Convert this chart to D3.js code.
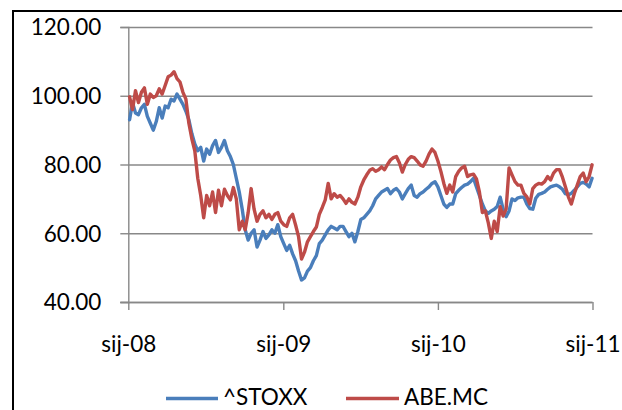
<!DOCTYPE html>
<html>
<head>
<meta charset="utf-8">
<script src="https://cdn.jsdelivr.net/npm/d3@7"></script>
<style>
  html, body { margin: 0; padding: 0; background: #fff; }
  svg { display: block; }
  text { font-family: Lato, "Open Sans", sans-serif; fill: #000; }
</style>
</head>
<body>
<svg id="chart" width="622" height="410"></svg>
<script>
// Weekly closes (Fridays), Jan 2008 – Dec 2010, both rebased to 100
const firstWeek = new Date(2008, 0, 4);
const xTickYears = [2008, 2009, 2010, 2011];
const yTicks = [40, 60, 80, 100, 120];
const seriesNames = ["^STOXX", "ABE.MC"];

const stoxx = [
  93, 98, 95, 94.5, 96.5, 97.5, 94, 92, 90, 92.5,
  96.5, 93.5, 97, 96.5, 99, 98.5, 100.5, 99, 97.5, 95.5,
  93, 89, 86, 84, 85, 81, 84.5, 83, 85.5, 87,
  83.5, 85, 87, 84, 82.3, 80, 76, 72, 67, 61,
  58, 60, 61, 56, 58, 60.5, 58.5, 59.5, 61, 60,
  62.5, 59, 57, 55, 56.5, 54, 52, 49, 46.4, 47,
  49, 50, 52, 53.5, 57, 58, 59.5, 61, 62, 61.5,
  61, 62, 62, 60.5, 59, 60, 57.5, 60.5, 64, 64.5,
  65.5, 66.5, 68, 70, 71, 72, 72.5, 73, 71.5, 72.5,
  73, 72, 70, 71.5, 73, 74, 71, 70.5, 71.5, 72,
  72.8, 73.5, 74.5, 75, 73.5, 71, 68.5, 67.5, 68.5, 68.5,
  71.5, 72.5, 73.3, 74, 74.3, 75, 76, 73.5, 71, 68.5,
  66.5, 65.8, 66.5, 67, 67.8, 70.5, 67, 64.8, 66.5, 70,
  69.5, 70.3, 70.5, 70.5, 68.5, 67.2, 67, 70.2, 71.3, 71.6,
  72, 72.8, 73.5, 73.8, 74, 73.5, 72.8, 71.5, 71.2, 71.6,
  72.5, 73.5, 74.5, 74.8, 74.3, 73.5, 76
];

const abe = [
  99.7, 96, 101.5, 98, 101, 102.3, 97.5, 100.5, 99.5, 100,
  102, 100.5, 103, 105.5, 106, 107, 105, 104, 101, 99,
  92, 87.5, 84, 76, 71, 64.5, 71, 68, 72, 66,
  72.5, 68, 72.8, 71, 69.7, 73.3, 70, 61, 63.5, 61,
  66, 73, 67, 63.5, 65.5, 66.5, 64.5, 65.5, 64, 65.5,
  66, 63.5, 62.5, 62, 64.5, 65.5, 62.4, 59, 52.5, 54.5,
  57.5, 59, 60.5, 61.8, 65.5, 67.5, 69.7, 74.5, 70, 71.5,
  70.5, 71, 70, 68.7, 70, 69, 68.5, 70.5, 73.5, 75.5,
  77, 78.3, 78.8, 78, 78.5, 79.3, 78.5, 80, 81.3, 82,
  82.3, 80.5, 77.8, 80, 81.5, 82.3, 82, 81, 79.9, 79.5,
  81, 83, 84.5, 83.5, 81, 78, 74.5, 71.6, 74, 72,
  76.5, 78, 79, 79.5, 76.5, 77, 77.2, 75.8, 72, 66,
  66.5, 63, 58.5, 63.5, 60.5, 67.7, 65, 67, 79, 77,
  75, 74, 74, 71.6, 70.6, 68.5, 73, 74, 74.5, 74.3,
  75, 76.5, 75.5, 77.5, 78.5, 78.5, 76.3, 73.5, 70.6, 68.5,
  71.5, 74, 76.5, 77.5, 75, 76.5, 79.9
];

const colors = ["#4a7ebb", "#be4b48"];

const svg = d3.select("#chart");

// chart frame
svg.append("rect")
  .attr("x", 13).attr("y", 11)
  .attr("width", 640).attr("height", 430)
  .attr("fill", "none").attr("stroke", "#000").attr("stroke-width", 2);

const plot = { left: 128.3, right: 592.5, top: 27, bottom: 302 };

// one Friday per value
const dates = d3.range(stoxx.length).map(i => d3.timeDay.offset(firstWeek, i * 7));

const x = d3.scaleTime()
  .domain([new Date(2008, 0, 1), new Date(2011, 0, 1)])
  .range([plot.left, plot.right]);

const y = d3.scaleLinear()
  .domain([40, 120])
  .range([plot.bottom, plot.top]);

// horizontal gridlines
svg.append("g")
  .attr("transform", `translate(${plot.left},0)`)
  .call(d3.axisLeft(y).tickValues(yTicks).tickSize(-(plot.right - plot.left)).tickFormat(""))
  .call(g => g.select(".domain").remove())
  .call(g => g.selectAll("line").attr("stroke", "#888").attr("stroke-width", 1.4));

// y axis
svg.append("g")
  .attr("transform", `translate(${plot.left},0)`)
  .call(d3.axisLeft(y).tickValues(yTicks).tickSize(8).tickPadding(19).tickFormat(d3.format(".2f")))
  .call(g => g.select(".domain").attr("stroke", "#888").attr("stroke-width", 1.4))
  .call(g => g.selectAll("line").attr("stroke", "#888").attr("stroke-width", 1.4))
  .call(g => g.selectAll("text")
    .attr("font-size", 22.5).attr("font-family", "Lato, 'Open Sans', sans-serif")
    .attr("fill", "#000").attr("dy", "0.35em"));

// x axis
svg.append("g")
  .attr("transform", `translate(0,${plot.bottom})`)
  .call(d3.axisBottom(x)
    .tickValues(xTickYears.map(yr => new Date(yr, 0, 1)))
    .tickSize(8)
    .tickSizeOuter(0)
    .tickFormat(d => "sij-" + String(d.getFullYear()).slice(2)))
  .call(g => g.select(".domain").attr("d", `M${plot.left - 8},0.5H${plot.right}`)
    .attr("stroke", "#888").attr("stroke-width", 1.4))
  .call(g => g.selectAll("line").attr("stroke", "#888").attr("stroke-width", 1.4))
  .call(g => g.selectAll("text")
    .attr("font-size", 22.5).attr("font-family", "Lato, 'Open Sans', sans-serif")
    .attr("fill", "#000").attr("y", 50).attr("dy", 0));

// series lines
const line = d3.line()
  .x((d, i) => x(dates[i]))
  .y(d => y(d));

[stoxx, abe].forEach((vals, k) => {
  svg.append("path")
    .datum(vals)
    .attr("fill", "none")
    .attr("stroke", colors[k])
    .attr("stroke-width", 3.4)
    .attr("stroke-linejoin", "round")
    .attr("stroke-linecap", "round")
    .attr("d", line);
});

// legend
const legend = svg.append("g");
const legendItems = [
  { x0: 166, x1: 218, tx: 223 },
  { x0: 346, x1: 399, tx: 404 }
];
legendItems.forEach((it, k) => {
  legend.append("line")
    .attr("x1", it.x0).attr("x2", it.x1)
    .attr("y1", 398.5).attr("y2", 398.5)
    .attr("stroke", colors[k]).attr("stroke-width", 3.4);
  legend.append("text")
    .attr("x", it.tx).attr("y", 405)
    .attr("font-size", 22.5)
    .text(seriesNames[k]);
});
</script>
</body>
</html>
